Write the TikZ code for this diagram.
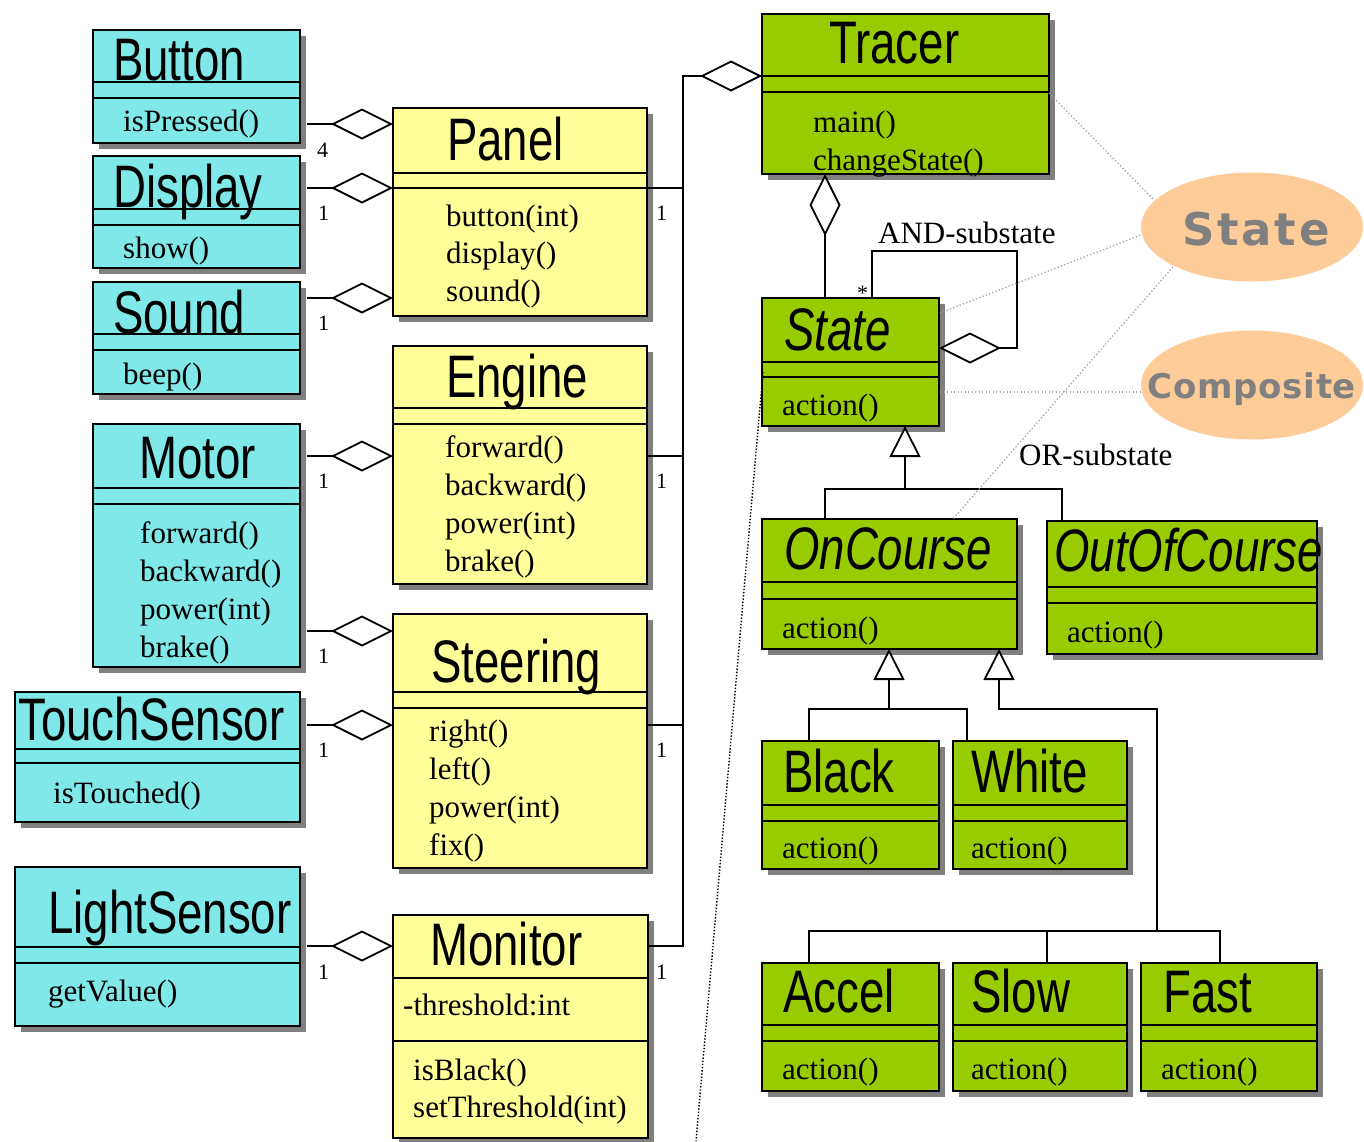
\documentclass[tikz,border=0pt]{standalone}
\usepackage{fontspec}
\setmainfont{Liberation Serif}
\newfontfamily\ttlfont[FakeStretch=0.76]{Liberation Sans}
\newfontfamily\ellfontA[LetterSpace=6]{DejaVu Sans}
\newfontfamily\ellfontB[LetterSpace=2]{DejaVu Sans}
\usetikzlibrary{arrows.meta,shapes.geometric}
\definecolor{cyanbox}{RGB}{128,232,232}
\definecolor{yellowbox}{RGB}{255,255,153}
\definecolor{greenbox}{RGB}{153,204,0}
\definecolor{peach}{RGB}{253,204,153}
\definecolor{ellgray}{RGB}{128,128,128}
\definecolor{shadowgray}{RGB}{128,128,128}
\definecolor{notegray}{RGB}{165,165,165}
\tikzset{
  boxline/.style={line width=2.2pt},
  sepline/.style={line width=2pt},
  ttl/.style={anchor=base west, inner sep=0pt, font=\ttlfont\fontsize{60}{60}\selectfont},
  ttli/.style={anchor=base west, inner sep=0pt, font=\ttlfont\itshape\fontsize{60}{60}\selectfont},
  meth/.style={anchor=base west, inner sep=0pt, font=\fontsize{31}{31}\selectfont},
  mult/.style={anchor=base west, inner sep=0pt, font=\fontsize{22}{22}\selectfont},
  conn/.style={line width=1.8pt},
  aggr/.style={conn, -{Diamond[length=62pt,width=31pt,fill=white]}},
  gen/.style={conn, -{Triangle[length=31pt,width=31pt,fill=white]}},
  note/.style={draw=notegray, line width=1.3pt, dash pattern=on 1.3pt off 2.2pt},
  blacknote/.style={draw=black, line width=1.4pt, dash pattern=on 1.4pt off 1.8pt},
}
\newcommand\umlbox[8]{%
  \fill[shadowgray] (#2+6,#3+6) rectangle (#4+6,#5+6);
  \node[draw, boxline, fill=#8, anchor=north west, minimum width={(#4)-(#2)},
        minimum height={(#5)-(#3)}, inner sep=0pt, outer sep=0pt] (#1) at (#2,#3) {};
  \draw[sepline] (#2,#6) -- (#4,#6) (#2,#7) -- (#4,#7);
}
\begin{document}
\begin{tikzpicture}[x=1pt,y=-1pt]
\useasboundingbox (0,0) rectangle (1364,1141);
\fill[white] (0,0) rectangle (1364,1141);

% ellipses
\node[ellipse, fill=peach, minimum width=222, minimum height=109, inner sep=0pt] (ellS) at (1252,227) {};
\node[ellipse, fill=peach, minimum width=222, minimum height=109, inner sep=0pt] (ellC) at (1252,385) {};
\node[anchor=base, inner sep=0pt, text=ellgray, font=\ellfontA\bfseries\fontsize{45}{45}\selectfont] (ellSt) at (1256,245) {State};
\node[anchor=base, inner sep=0pt, text=ellgray, font=\ellfontB\bfseries\fontsize{34}{34}\selectfont] (ellCt) at (1252,398) {Composite};

% boxes
\umlbox{button}{93}{30}{300}{143}{82}{98}{cyanbox}
\umlbox{display}{93}{156}{300}{268}{209}{225}{cyanbox}
\umlbox{sound}{93}{282}{300}{394}{334}{350}{cyanbox}
\umlbox{motor}{93}{424}{300}{667}{488}{504}{cyanbox}
\umlbox{touch}{15}{692}{300}{822}{749}{763}{cyanbox}
\umlbox{light}{15}{867}{300}{1026}{947}{963}{cyanbox}
\umlbox{panel}{393}{108}{647}{316}{173}{188}{yellowbox}
\umlbox{engine}{393}{346}{647}{584}{408}{424}{yellowbox}
\umlbox{steering}{393}{614}{647}{868}{692}{708}{yellowbox}
\umlbox{monitor}{393}{915}{648}{1138}{978}{1041}{yellowbox}
\umlbox{tracer}{762}{14}{1049}{174}{76}{92}{greenbox}
\umlbox{state}{762}{298}{939}{426}{362}{377}{greenbox}
\umlbox{oncourse}{762}{519}{1017}{649}{582}{599}{greenbox}
\umlbox{outofcourse}{1047}{521}{1317}{654}{587}{603}{greenbox}
\umlbox{black}{762}{741}{939}{869}{805}{821}{greenbox}
\umlbox{white}{953}{741}{1127}{869}{805}{821}{greenbox}
\umlbox{accel}{762}{963}{939}{1091}{1025}{1041}{greenbox}
\umlbox{slow}{953}{963}{1127}{1091}{1025}{1041}{greenbox}
\umlbox{fast}{1141}{963}{1317}{1091}{1025}{1041}{greenbox}

% titles
\node[ttl] (tButton) at (113,80) {Button};
\node[ttl] (tDisplay) at (113,207) {Display};
\node[ttl] (tSound) at (113,333) {Sound};
\node[ttl] (tMotor) at (139,478) {Motor};
\node[ttl] (tTouch) at (18,740) {TouchSensor};
\node[ttl] (tLight) at (48,933) {LightSensor};
\node[ttl] (tPanel) at (447,160) {Panel};
\node[ttl] (tEngine) at (446,397) {Engine};
\node[ttl] (tSteering) at (431,682) {Steering};
\node[ttl] (tMonitor) at (430,965) {Monitor};
\node[ttl] (tTracer) at (829,63) {Tracer};
\node[ttli] (tState) at (784,350) {State};
\node[ttli] (tOn) at (784,569) {OnCourse};
\node[ttli] (tOut) at (1054,571) {OutOfCourse};
\node[ttl] (tBlack) at (783,792) {Black};
\node[ttl] (tWhite) at (971,792) {White};
\node[ttl] (tAccel) at (783,1012) {Accel};
\node[ttl] (tSlow) at (971,1012) {Slow};
\node[ttl] (tFast) at (1163,1012) {Fast};

% methods
\node[meth] (m1) at (123,131) {isPressed()};
\node[meth] (m2) at (123,258) {show()};
\node[meth] (m3) at (123,384) {beep()};
\node[meth] (m4) at (446,226) {button(int)};
\node[meth] (m5) at (446,263) {display()};
\node[meth] (m6) at (446,301) {sound()};
\node[meth] (m7) at (445,457) {forward()};
\node[meth] (m8) at (445,495) {backward()};
\node[meth] (m9) at (445,533) {power(int)};
\node[meth] (m10) at (445,571) {brake()};
\node[meth] (m11) at (140,543) {forward()};
\node[meth] (m12) at (140,581) {backward()};
\node[meth] (m13) at (140,619) {power(int)};
\node[meth] (m14) at (140,657) {brake()};
\node[meth] (m15) at (53,803) {isTouched()};
\node[meth] (m16) at (429,741) {right()};
\node[meth] (m17) at (429,779) {left()};
\node[meth] (m18) at (429,817) {power(int)};
\node[meth] (m19) at (429,855) {fix()};
\node[meth] (m20) at (48,1001) {getValue()};
\node[meth] (m21) at (403,1015) {-threshold:int};
\node[meth] (m22) at (413,1080) {isBlack()};
\node[meth] (m23) at (413,1117) {setThreshold(int)};
\node[meth] (m24) at (813,132) {main()};
\node[meth] (m25) at (813,170) {changeState()};
\node[meth] (m26) at (782,415) {action()};
\node[meth] (m27) at (782,638) {action()};
\node[meth] (m28) at (1067,642) {action()};
\node[meth] (m29) at (782,858) {action()};
\node[meth] (m30) at (971,858) {action()};
\node[meth] (m31) at (782,1079) {action()};
\node[meth] (m32) at (971,1079) {action()};
\node[meth] (m33) at (1161,1079) {action()};

% left aggregations
\coordinate (cB) at (307,124);
\coordinate (cD) at (307,188);
\coordinate (cS) at (307,298);
\coordinate (cME) at (307,456);
\coordinate (cMS) at (307,631);
\coordinate (cT) at (307,725);
\coordinate (cL) at (307,946);
\draw[aggr] (cB) -- (cB -| panel.west);
\draw[aggr] (cD) -- (cD -| panel.west);
\draw[aggr] (cS) -- (cS -| panel.west);
\draw[aggr] (cME) -- (cME -| engine.west);
\draw[aggr] (cMS) -- (cMS -| steering.west);
\draw[aggr] (cT) -- (cT -| steering.west);
\draw[aggr] (cL) -- (cL -| monitor.west);

\node[mult] (n1) at (317,157) {4};
\node[mult] (n2) at (318,220) {1};
\node[mult] (n3) at (318,330) {1};
\node[mult] (n4) at (318,488) {1};
\node[mult] (n5) at (318,663) {1};
\node[mult] (n6) at (318,757) {1};
\node[mult] (n7) at (318,979) {1};
\node[mult] (n8) at (656,220) {1};
\node[mult] (n9) at (656,488) {1};
\node[mult] (n10) at (656,757) {1};
\node[mult] (n11) at (656,979) {1};

% right side to Tracer
\coordinate (j1) at (683,188);
\coordinate (j2) at (683,456);
\coordinate (j3) at (683,725);
\coordinate (j4) at (683,946);
\coordinate (jt) at (683,76);
\draw[conn] (j1 -| panel.east) -- (j1);
\draw[conn] (j2 -| engine.east) -- (j2);
\draw[conn] (j3 -| steering.east) -- (j3);
\draw[aggr] (j4 -| monitor.east) -- (j4) -- (jt) -- (jt -| tracer.west);

% Tracer - State
\coordinate (ts) at (825,298);
\draw[aggr] (ts) -- (ts |- tracer.south);

% AND-substate
\coordinate (a1) at (872,251);
\coordinate (a2) at (1017,348);
\draw[aggr] (a1 |- state.north) -- (a1) -- (a1 -| a2) -- (a2) -- (a2 -| state.east);
\node[anchor=base west, inner sep=0pt, font=\fontsize{22}{22}\selectfont] (star) at (857,300) {*};
\node[meth] (andlbl) at (878,243) {AND-substate};
\node[meth] (orlbl) at (1019,465) {OR-substate};

% generalization State
\coordinate (g1) at (905,489);
\coordinate (g1l) at (825,489);
\coordinate (g1r) at (1062,489);
\draw[gen] (g1l |- oncourse.north) -- (g1l) -- (g1) -- (g1 |- state.south);
\draw[conn] (g1r |- outofcourse.north) -- (g1r) -- (g1);

% generalization OnCourse - Black/White
\coordinate (g2) at (889,709);
\coordinate (g2l) at (809,709);
\coordinate (g2r) at (967,709);
\draw[gen] (g2l |- black.north) -- (g2l) -- (g2) -- (g2 |- oncourse.south);
\draw[conn] (g2r |- white.north) -- (g2r) -- (g2);

% generalization OnCourse - Accel/Slow/Fast
\coordinate (g3) at (999,709);
\coordinate (g3c) at (1157,709);
\coordinate (g3j) at (1157,931);
\coordinate (g3l) at (809,931);
\coordinate (g3m) at (1047,931);
\coordinate (g3r) at (1220,931);
\draw[gen] (g3l |- accel.north) -- (g3l) -- (g3j) -- (g3c) -- (g3) -- (g3 |- oncourse.south);
\draw[conn] (g3m |- slow.north) -- (g3m);
\draw[conn] (g3r |- fast.north) -- (g3r) -- (g3j);

% notes
\coordinate (nt1) at (1049,93);
\coordinate (ne1) at (1154,200);
\coordinate (nt2) at (940,313);
\coordinate (ne2) at (1141,235);
\coordinate (ne3) at (1173,267);
\coordinate (nt3) at (953,519);
\coordinate (nt4) at (940,392);
\coordinate (ne4) at (1141,392);
\draw[note] (nt1) -- (ne1);
\draw[note] (nt2) -- (ne2);
\draw[note] (ne3) -- (nt3);
\draw[note] (nt4) -- (ne4);
\coordinate (bn1) at (763,372);
\coordinate (bn2) at (696,1141);
\draw[blacknote] (bn1) -- (bn2);
\end{tikzpicture}
\end{document}
